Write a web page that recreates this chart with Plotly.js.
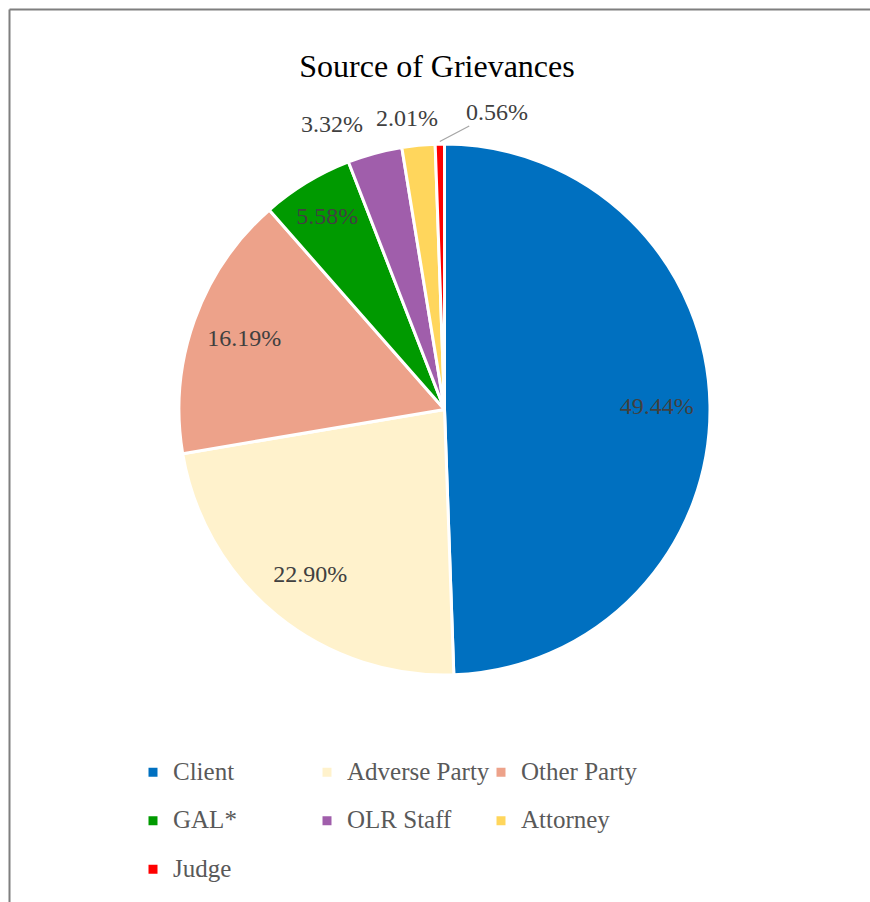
<!DOCTYPE html>
<html>
<head>
<meta charset="utf-8">
<script src="https://cdn.plot.ly/plotly-3.0.1.min.js"></script>
<style>
  html, body { margin: 0; padding: 0; background: #fff; }
  #chart { width: 870px; height: 902px; }
</style>
</head>
<body>
<div id="chart"></div>
<script>
const categories = ['Client', 'Adverse Party', 'Other Party', 'GAL*', 'OLR Staff', 'Attorney', 'Judge'];
const shares = [49.44, 22.90, 16.19, 5.58, 3.32, 2.01, 0.56];
const sliceColors = ['#0070C0', '#FFF2CC', '#EDA28A', '#009A00', '#A05EAB', '#FFD65C', '#FF0000'];
// inside labels drawn by the pie; small slices get outside callouts
const textPositions = ['inside', 'inside', 'inside', 'inside', 'none', 'none', 'none'];

const W = 870, H = 902;
const ML = 130, MR = 160;
const PW = W - ML - MR;
const px = x => (x - ML) / PW;
const py = y => 1 - y / H;

// pie geometry (pixels)
const CX = 444.5, CY = 409.5, R = 265.5;
const pieDomain = { x: [px(CX - R), px(CX + R)], y: [py(CY + R), py(CY - R)] };
const labelFont = { family: 'Liberation Serif, serif', size: 24, color: '#404040' };

const slices = {
  type: 'pie',
  labels: categories.map(c => '<span style="font-size:25px;baseline-shift:6px">' + c + '</span>'),
  values: shares,
  sort: false,
  direction: 'clockwise',
  rotation: 0,
  marker: { colors: sliceColors, line: { color: '#ffffff', width: 3 } },
  textinfo: 'none',
  hoverinfo: 'label+percent',
  domain: pieDomain
};

// transparent ring carrying the inside data labels (puts them at ~0.8 r)
const labelRing = {
  type: 'pie',
  labels: categories,
  values: shares,
  sort: false,
  direction: 'clockwise',
  rotation: 0,
  hole: 0.6,
  showlegend: false,
  marker: { colors: categories.map(() => 'rgba(0,0,0,0)'), line: { width: 0 } },
  texttemplate: '%{value:.2f}%',
  textposition: textPositions,
  insidetextorientation: 'horizontal',
  insidetextfont: labelFont,
  hoverinfo: 'skip',
  domain: pieDomain
};

// outside callouts for the small slices, placed along each slice's mid-angle
const total = shares.reduce((a, b) => a + b, 0);
const cum = [];
shares.reduce((acc, v, i) => { cum[i] = acc; return acc + v; }, 0);
const midAngle = i => (cum[i] + shares[i] / 2) / total * 2 * Math.PI; // clockwise from 12 o'clock
const onCircle = (i, r) => ({ x: CX + r * Math.sin(midAngle(i)), y: CY - r * Math.cos(midAngle(i)) });

const calloutStyle = {
  4: { r: 293, xanchor: 'right', xshift: -3, yshift: 3 },
  5: { r: 293, xanchor: 'center', xshift: -9, yshift: 0 },
  6: { r: 268, xanchor: 'center', arrow: true, ax: 57, ay: -30 }
};
const annotations = Object.keys(calloutStyle).map(k => {
  const i = +k, s = calloutStyle[k];
  const p = onCircle(i, s.r);
  const a = {
    xref: 'paper', yref: 'paper', x: px(p.x), y: py(p.y),
    text: shares[i].toFixed(2) + '%',
    font: labelFont,
    xanchor: s.xanchor, yanchor: 'middle',
    xshift: s.xshift || 0, yshift: s.yshift || 0,
    showarrow: false
  };
  if (s.arrow) {
    Object.assign(a, { showarrow: true, arrowhead: 0, arrowwidth: 1.3, arrowcolor: '#a6a6a6', ax: s.ax, ay: s.ay, standoff: 0, xanchor: 'auto', yanchor: 'auto' });
  }
  return a;
});

const layout = {
  width: W, height: H,
  margin: { l: ML, r: MR, t: 0, b: 0 },
  paper_bgcolor: '#ffffff',
  font: { family: 'Liberation Serif, serif', color: '#404040' },
  title: {
    text: 'Source of Grievances',
    font: { family: 'Liberation Serif, serif', size: 32, color: '#000000' },
    x: px(437), xanchor: 'center', xref: 'paper',
    y: py(66), yanchor: 'middle', yref: 'container'
  },
  showlegend: true,
  legend: {
    orientation: 'h',
    x: px(133), xanchor: 'left',
    y: py(743), yanchor: 'top',
    entrywidth: 129, entrywidthmode: 'pixels',
    font: { family: 'Liberation Serif, serif', size: 35, color: '#595959' },
    traceorder: 'normal'
  },
  annotations: annotations,
  shapes: [
    { type: 'line', xref: 'paper', yref: 'paper', x0: px(9.5), x1: px(875), y0: py(9.5), y1: py(9.5), line: { color: '#7f7f7f', width: 2 } },
    { type: 'line', xref: 'paper', yref: 'paper', x0: px(9.5), x1: px(9.5), y0: py(9.5), y1: py(910), line: { color: '#7f7f7f', width: 2 } }
  ]
};

Plotly.newPlot('chart', [slices, labelRing], layout, { displayModeBar: false, staticPlot: true });
</script>
</body>
</html>
